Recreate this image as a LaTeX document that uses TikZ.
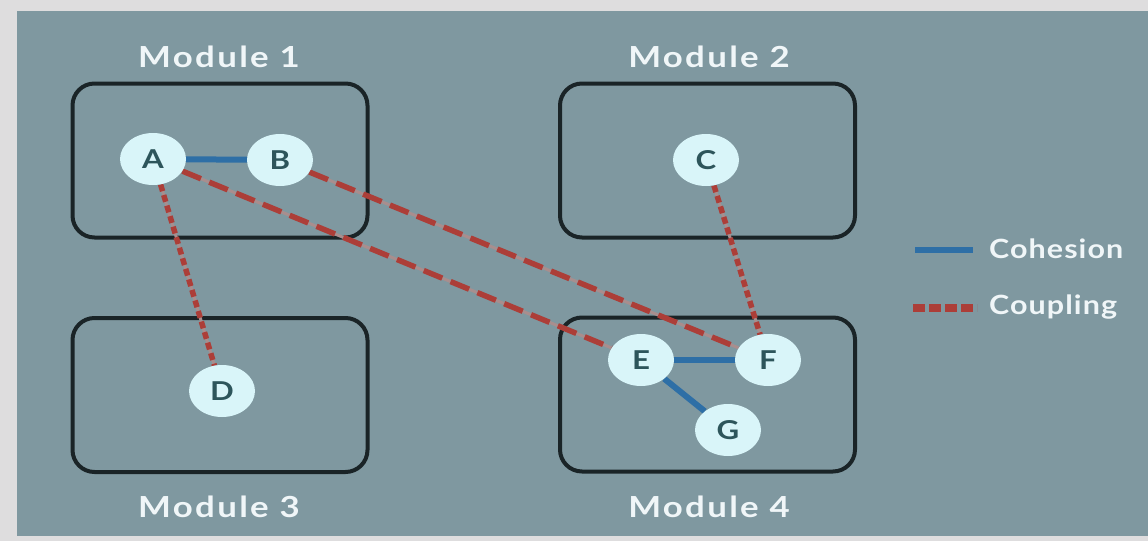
\documentclass[tikz,border=0pt]{standalone}
\usepackage{fontspec}
\setmainfont{Lato}
\newfontfamily\modfont{Lato}[FakeStretch=1.2,LetterSpace=8]
\newfontfamily\legfont{Lato}[FakeStretch=1.15,LetterSpace=4]
\newfontfamily\elemfont{Lato}[FakeStretch=1.2]
\usetikzlibrary{shapes.geometric}
\definecolor{bgc}{HTML}{7F98A0}
\definecolor{framec}{HTML}{DEDDDE}
\definecolor{boxline}{HTML}{1A2427}
\definecolor{nodefill}{HTML}{D9F5F9}
\definecolor{nodetext}{HTML}{2D555B}
\definecolor{coh}{HTML}{2E6FA6}
\definecolor{cpl}{HTML}{AC3E38}
\definecolor{cplunder}{HTML}{A88E8E}
\definecolor{labtext}{HTML}{F0F6F8}
\pgfdeclarelayer{back}
\pgfdeclarelayer{edges}
\pgfsetlayers{back,edges,main}
\begin{document}
\begin{tikzpicture}[x=1pt,y=-1pt,
  modbox/.style={draw=boxline,line width=4pt,rounded corners=22pt,minimum width=295pt,minimum height=154pt,inner sep=0pt},
  elem/.style={ellipse,fill=nodefill,minimum width=66pt,minimum height=52pt,inner sep=0pt,text=nodetext,font=\elemfont\bfseries\fontsize{26}{26}\selectfont},
  modlabel/.style={text=labtext,inner sep=0pt,font=\modfont\bfseries\fontsize{29}{30}\selectfont},
  leglabel/.style={text=labtext,inner sep=0pt,anchor=west,font=\legfont\bfseries\fontsize{26.5}{28}\selectfont},
  cohesion/.style={draw=coh,line width=6pt},
  coupling/.style={draw=cpl,line width=5.5pt,dash pattern=on 20pt off 9pt,
    preaction={draw=cplunder,line width=3pt,solid}},
  couplingshort/.style={draw=cpl,line width=5.5pt,dash pattern=on 7pt off 4pt,
    preaction={draw=cplunder,line width=3pt,solid}},
  legcoupling/.style={draw=cpl,line width=8pt,dash pattern=on 12pt off 4pt}
]
\useasboundingbox (0,0) rectangle (1148,541);
\begin{pgfonlayer}{back}
  \fill[framec] (0,0) rectangle (1148,541);
  \fill[bgc] (17,11) rectangle (1148,536);
  \node[modbox] (m1) at (220,160.5) {};
  \node[modbox] (m2) at (707.5,160.5) {};
  \node[modbox] (m3) at (220,395) {};
  \node[modbox] (m4) at (707.5,394.5) {};
\end{pgfonlayer}

\node[modlabel] (l1) at (219,57) {Module 1};
\node[modlabel] (l2) at (709,57) {Module 2};
\node[modlabel] (l3) at (219,507) {Module 3};
\node[modlabel] (l4) at (709,507) {Module 4};

\node[elem] (A) at (153,159) {A};
\node[elem] (B) at (280,160) {B};
\node[elem] (C) at (706,160) {C};
\node[elem] (D) at (222,391) {D};
\node[elem] (E) at (641,360) {E};
\node[elem] (F) at (768,360) {F};
\node[elem] (G) at (728,430) {G};

\begin{pgfonlayer}{edges}
  \draw[cohesion] (A) -- (B);
  \draw[cohesion] (E) -- (F);
  \draw[cohesion] (E) -- (G);
  \draw[coupling] (A) -- (E);
  \draw[coupling] (B) -- (F);
  \draw[couplingshort] (A) -- (D);
  \draw[couplingshort] (C) -- (F);
\end{pgfonlayer}

\coordinate (cohL) at (915,250);
\coordinate (cohR) at (973,250);
\coordinate (cplL) at (913,308);
\coordinate (cplR) at (977,308);
\draw[cohesion] (cohL) -- (cohR);
\draw[legcoupling] (cplL) -- (cplR);
\node[leglabel] (tcoh) at (989,249) {Cohesion};
\node[leglabel] (tcpl) at (989,307) {Coupling};
\end{tikzpicture}
\end{document}
